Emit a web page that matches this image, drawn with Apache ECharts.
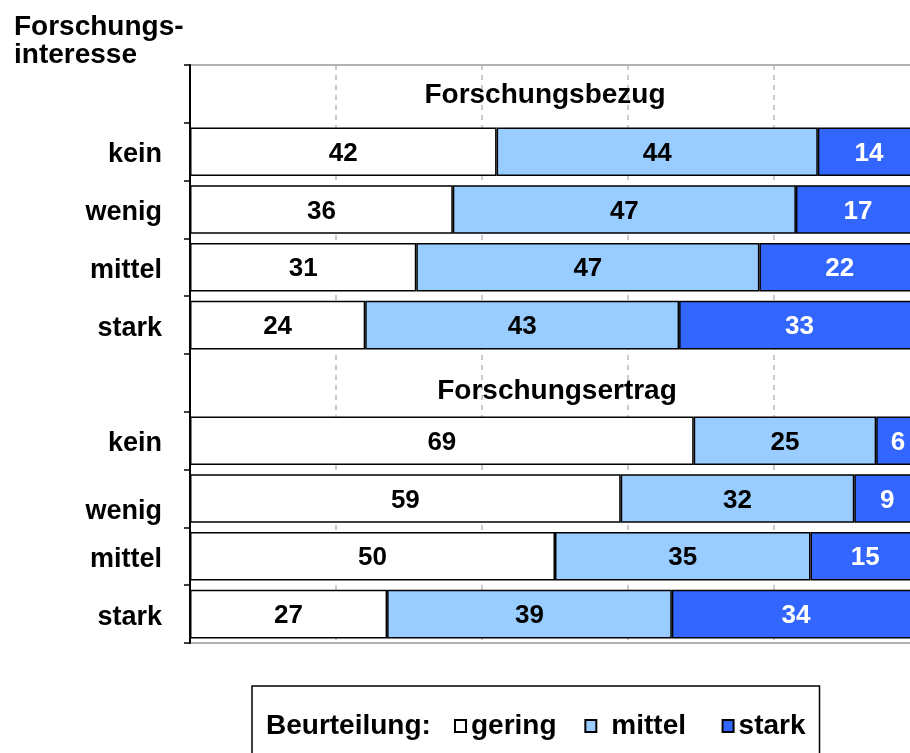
<!DOCTYPE html>
<html>
<head>
<meta charset="utf-8">
<script src="https://cdn.jsdelivr.net/npm/echarts@6/dist/echarts.min.js"></script>
<style>
html,body{margin:0;padding:0;background:#fff;}
#chart{width:910px;height:753px;}
</style>
</head>
<body>
<div id="chart"></div>
<script>
// ---- data ----
var rowLabels = ['', 'kein', 'wenig', 'mittel', 'stark', '', 'kein', 'wenig', 'mittel', 'stark'];
var groupTitles = ['Forschungsbezug', 'Forschungsertrag'];
var groupTitleRows = [0, 5];
var seriesNames = ['gering', 'mittel', 'stark'];
var gering = [null, 42, 36, 31, 24, null, 69, 59, 50, 27];
var mittel = [null, 44, 47, 47, 43, null, 25, 32, 35, 39];
var stark  = [null, 14, 17, 22, 33, null, 6, 9, 15, 34];
var xTicks = [0, 20, 40, 60, 80, 100];
var yAxisTitle = 'Forschungs-\ninteresse';
var legendTitle = 'Beurteilung:';

var FONT = 'Liberation Sans, Arial, sans-serif';
var chart = echarts.init(document.getElementById('chart'), null, {renderer: 'canvas'});

function barSeries(name, data, color, labelColor) {
  return {
    name: name,
    type: 'bar',
    stack: 'total',
    barCategoryGap: '16%',
    data: data,
    itemStyle: {color: color, borderColor: '#000', borderWidth: 1.5},
    label: {
      show: true,
      position: 'inside',
      offset: [0, 2],
      color: labelColor,
      fontFamily: FONT,
      fontWeight: 'bold',
      fontSize: 26
    },
    emphasis: {disabled: true}
  };
}

var titleData = groupTitles.map(function (t, i) {
  return {value: [50, groupTitleRows[i]], name: t,
          label: {offset: i === 0 ? [-10, 1] : [2, 8]}};
});

var legendSpacer = {gering: ' ', mittel: '  ', stark: ''};
var txt = {fontFamily: FONT, fontWeight: 'bold', fontSize: 28, color: '#000'};

var option = {
  animation: false,
  title: [
    {
      text: yAxisTitle,
      left: 14, top: 13, padding: 0,
      textStyle: {fontFamily: FONT, fontWeight: 'bold', fontSize: 28, lineHeight: 28, color: '#000'}
    },
    {
      text: legendTitle,
      left: 266, top: 711, padding: 0,
      textStyle: {fontFamily: FONT, fontWeight: 'bold', fontSize: 28, lineHeight: 30, color: '#000'}
    }
  ],
  legend: {
    data: seriesNames,
    left: 252, top: 686,
    orient: 'horizontal',
    icon: 'rect',
    itemWidth: 11, itemHeight: 12,
    itemGap: 20,
    padding: [26, 14, 30, 202],
    borderColor: '#000', borderWidth: 1.5,
    selectedMode: false,
    formatter: function (name) {
      var s = '{' + name + '|' + name + '}';
      if (legendSpacer[name]) s += '{sp|' + legendSpacer[name] + '}';
      return s;
    },
    textStyle: {
      fontFamily: FONT, fontWeight: 'bold', fontSize: 28, color: '#000',
      rich: {
        gering: Object.assign({}, txt),
        mittel: Object.assign({padding: [0, 0, 0, 10]}, txt),
        stark:  Object.assign({}, txt),
        sp: Object.assign({}, txt)
      }
    }
  },
  grid: {
    left: 190, width: 730, top: 65, height: 578,
    outerBoundsMode: 'none',
    containLabel: false,
    show: true, borderColor: '#999', borderWidth: 1.5, backgroundColor: 'transparent'
  },
  xAxis: {
    type: 'value',
    min: xTicks[0], max: xTicks[xTicks.length - 1], interval: 20,
    axisLabel: {show: false},
    axisLine: {show: false},
    axisTick: {show: false},
    splitLine: {show: true, lineStyle: {color: '#bbb', type: [5, 5], width: 1.5}}
  },
  yAxis: {
    type: 'category',
    inverse: true,
    data: rowLabels,
    axisLine: {show: true, lineStyle: {color: '#000', width: 2}},
    axisTick: {show: true, length: 6, lineStyle: {color: '#000', width: 1.5}},
    splitLine: {show: false},
    axisLabel: {
      margin: 28,
      color: '#000',
      fontFamily: FONT, fontWeight: 'bold', fontSize: 27,
      formatter: function (value, index) {
        return index === 7 ? '{low|' + value + '}' : '{n|' + value + '}';
      },
      rich: {
        n: {fontFamily: FONT, fontWeight: 'bold', fontSize: 27, color: '#000', padding: [6, 0, 0, 0]},
        low: {fontFamily: FONT, fontWeight: 'bold', fontSize: 27, color: '#000', padding: [26, 0, 0, 0]}
      }
    }
  },
  series: [
    barSeries(seriesNames[0], gering, '#ffffff', '#000'),
    barSeries(seriesNames[1], mittel, '#99ccff', '#000'),
    barSeries(seriesNames[2], stark, '#3366ff', '#fff'),
    {
      type: 'scatter',
      data: titleData,
      symbolSize: 0,
      silent: true,
      itemStyle: {opacity: 1},
      legendHoverLink: false,
      label: {
        show: true,
        position: 'inside',
        formatter: function (p) { return p.name; },
        color: '#000', fontFamily: FONT, fontWeight: 'bold', fontSize: 28
      },
      emphasis: {disabled: true},
      z: 5
    }
  ]
};
chart.setOption(option);
</script>
</body>
</html>
